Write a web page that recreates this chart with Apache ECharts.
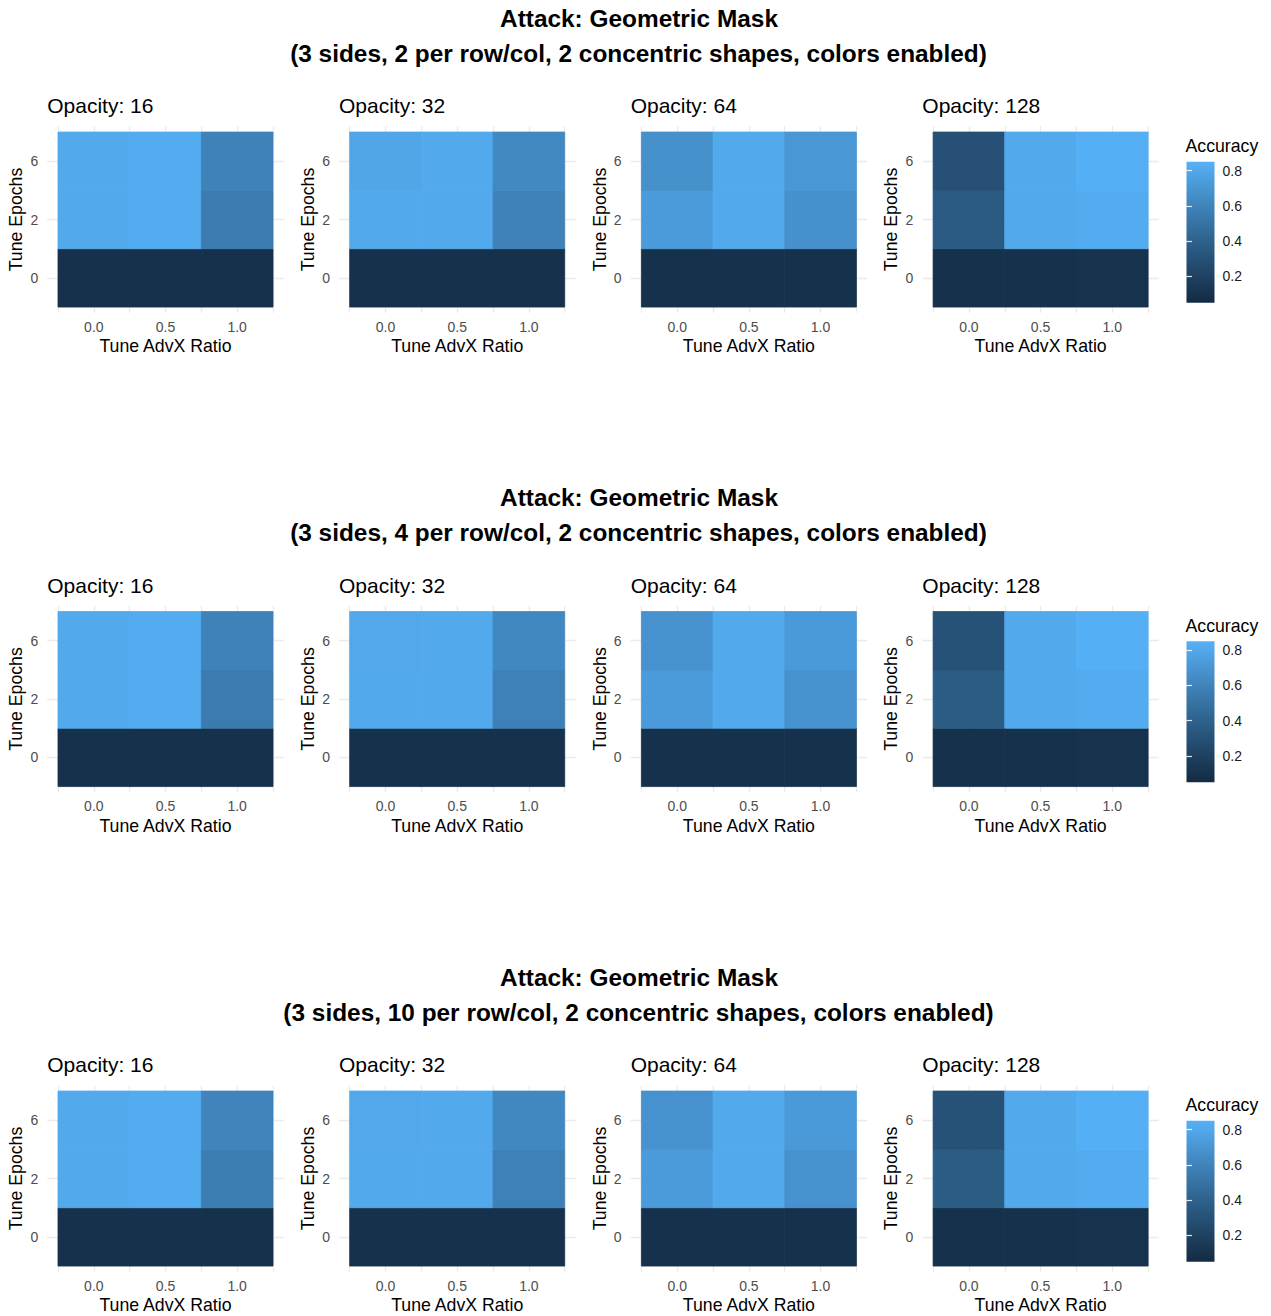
<!DOCTYPE html>
<html>
<head>
<meta charset="utf-8">
<title>Attack: Geometric Mask</title>
<script src="https://cdn.jsdelivr.net/npm/echarts@6/dist/echarts.min.js"></script>
<style>
  html, body { margin: 0; padding: 0; background: #ffffff; }
  #chart { width: 1271px; height: 1316px; }
</style>
</head>
<body>
<div id="chart"></div>
<script>
// ---- data ---------------------------------------------------------------
const advxRatios = [0.0, 0.5, 1.0];          // x: Tune AdvX Ratio
const tuneEpochs = [0, 2, 6];                // y: Tune Epochs (discrete)
const opacities = [16, 32, 64, 128];         // one panel per opacity
const shapesPerRowCol = [2, 4, 10];          // one figure row per setting
const legendBreaks = [0.2, 0.4, 0.6, 0.8];
const accuracyLimits = [0.05, 0.85];

// accuracy[epoch][ratio]; epoch rows in order 0, 2, 6; ratio columns 0.0, 0.5, 1.0
const acc2_op16  = [[0.09, 0.09, 0.09], [0.81, 0.82, 0.55], [0.81, 0.82, 0.59]];
const acc2_op32  = [[0.09, 0.09, 0.09], [0.81, 0.81, 0.59], [0.79, 0.81, 0.63]];
const acc2_op64  = [[0.09, 0.09, 0.09], [0.73, 0.81, 0.67], [0.67, 0.81, 0.71]];
const acc2_op128 = [[0.09, 0.09, 0.095], [0.35, 0.81, 0.82], [0.29, 0.81, 0.84]];

const acc4_op16  = [[0.09, 0.09, 0.09], [0.81, 0.82, 0.55], [0.81, 0.82, 0.59]];
const acc4_op32  = [[0.09, 0.09, 0.09], [0.81, 0.81, 0.58], [0.80, 0.81, 0.62]];
const acc4_op64  = [[0.09, 0.09, 0.09], [0.73, 0.81, 0.68], [0.68, 0.81, 0.72]];
const acc4_op128 = [[0.09, 0.09, 0.095], [0.36, 0.81, 0.82], [0.30, 0.81, 0.84]];

const acc10_op16  = [[0.09, 0.09, 0.09], [0.81, 0.82, 0.56], [0.81, 0.82, 0.60]];
const acc10_op32  = [[0.09, 0.09, 0.09], [0.81, 0.81, 0.58], [0.80, 0.81, 0.62]];
const acc10_op64  = [[0.09, 0.09, 0.09], [0.73, 0.81, 0.68], [0.68, 0.81, 0.72]];
const acc10_op128 = [[0.09, 0.09, 0.095], [0.36, 0.81, 0.82], [0.30, 0.81, 0.84]];

const figureRows = [
  [acc2_op16, acc2_op32, acc2_op64, acc2_op128],
  [acc4_op16, acc4_op32, acc4_op64, acc4_op128],
  [acc10_op16, acc10_op32, acc10_op64, acc10_op128]
];

// ---- colour ramp: low -> high interpolated in CIE Lab -----------------------
const LOW = '#132B43', HIGH = '#56B1F7';
const WHITE = [0.95047, 1.0, 1.08883];
const EPS = 216 / 24389, KAPPA = 24389 / 27;
function srgbToLinear(c) { c /= 255; return c <= 0.04045 ? c / 12.92 : Math.pow((c + 0.055) / 1.055, 2.4); }
function linearToSrgb(c) {
  const v = c <= 0.0031308 ? 12.92 * c : 1.055 * Math.pow(c, 1 / 2.4) - 0.055;
  return Math.round(Math.min(1, Math.max(0, v)) * 255);
}
function hexToLab(hex) {
  const r = srgbToLinear(parseInt(hex.slice(1, 3), 16));
  const g = srgbToLinear(parseInt(hex.slice(3, 5), 16));
  const b = srgbToLinear(parseInt(hex.slice(5, 7), 16));
  const xyz = [
    0.4124564 * r + 0.3575761 * g + 0.1804375 * b,
    0.2126729 * r + 0.7151522 * g + 0.0721750 * b,
    0.0193339 * r + 0.1191920 * g + 0.9503041 * b
  ];
  const f = xyz.map((v, i) => { const t = v / WHITE[i]; return t > EPS ? Math.cbrt(t) : (KAPPA * t + 16) / 116; });
  return [116 * f[1] - 16, 500 * (f[0] - f[1]), 200 * (f[1] - f[2])];
}
function labToHex(lab) {
  const fy = (lab[0] + 16) / 116, fx = fy + lab[1] / 500, fz = fy - lab[2] / 200;
  const inv = f => { const f3 = f * f * f; return f3 > EPS ? f3 : (116 * f - 16) / KAPPA; };
  const X = inv(fx) * WHITE[0], Y = inv(fy) * WHITE[1], Z = inv(fz) * WHITE[2];
  const r = 3.2404542 * X - 1.5371385 * Y - 0.4985314 * Z;
  const g = -0.9692660 * X + 1.8760108 * Y + 0.0415560 * Z;
  const b = 0.0556434 * X - 0.2040259 * Y + 1.0572252 * Z;
  return '#' + [r, g, b].map(v => linearToSrgb(v).toString(16).padStart(2, '0')).join('');
}
const labLow = hexToLab(LOW), labHigh = hexToLab(HIGH);
const ramp = [];
for (let i = 0; i <= 40; i++) {
  const t = i / 40;
  ramp.push(labToHex(labLow.map((v, k) => v + (labHigh[k] - v) * t)));
}

// ---- layout -------------------------------------------------------------
const FONT = '"Liberation Sans", Arial, Helvetica, sans-serif';
const ROW_STEP = 479.5;
const COL_STEP = 291.7;
const PANEL_LEFT = 47.25;
const PANEL_TOP = 126.2;
const PANEL_W = 236.5;
const PANEL_H = 186.7;

// x scale: tiles span one ratio step, plus 5% expansion on each side
const ratioStep = advxRatios[1] - advxRatios[0];
const xLo = advxRatios[0] - ratioStep / 2, xHi = advxRatios[advxRatios.length - 1] + ratioStep / 2;
const xPad = (xHi - xLo) * 0.05;
const xGridValues = advxRatios.map(v => v - ratioStep / 2).concat(advxRatios, [xHi]).sort((a, b) => a - b);
// y scale: discrete epochs at positions 1..n, 0.6 expansion
const yPositions = tuneEpochs.map((e, i) => i + 1);

const grids = [], xAxes = [], yAxes = [], series = [], graphics = [];
const tileSeries = [];

function tileRenderer(params, api) {
  const x = api.value(0), y = api.value(1);
  const p0 = api.coord([x - ratioStep / 2, y + 0.5]);
  const p1 = api.coord([x + ratioStep / 2, y - 0.5]);
  const c = api.visual('color');
  return {
    type: 'rect',
    shape: { x: p0[0], y: p0[1], width: p1[0] - p0[0], height: p1[1] - p0[1] },
    style: { fill: c, stroke: c, lineWidth: 0.8 }
  };
}

function legendBarRenderer(params) {
  const cs = params.coordSys;
  const stops = ramp.map((col, i) => ({ offset: i / (ramp.length - 1), color: col }));
  return {
    type: 'rect',
    shape: { x: cs.x, y: cs.y, width: cs.width, height: cs.height },
    style: { fill: new echarts.graphic.LinearGradient(0, 1, 0, 0, stops) }
  };
}

function textEl(text, x, y, size, weight, align, color) {
  return {
    type: 'text', x: x, y: y, silent: true,
    style: {
      text: text, fill: color || '#000000', fontSize: size, fontWeight: weight, fontFamily: FONT,
      align: align, textAlign: align, verticalAlign: 'middle', textVerticalAlign: 'middle'
    }
  };
}

figureRows.forEach((panels, r) => {
  const dy = r * ROW_STEP;
  graphics.push(textEl('Attack: Geometric Mask', 639, 18 + dy, 24.4, 'bold', 'center'));
  graphics.push(textEl('(3 sides, ' + shapesPerRowCol[r] + ' per row/col, 2 concentric shapes, colors enabled)',
    638.5, 53 + dy, 24.4, 'bold', 'center'));

  panels.forEach((acc, c) => {
    const gi = grids.length;
    const xi = xAxes.length, yi = yAxes.length;
    const left = PANEL_LEFT + c * COL_STEP;
    grids.push({ left: left, top: PANEL_TOP + dy, width: PANEL_W, height: PANEL_H });
    graphics.push(textEl('Opacity: ' + opacities[c], left, 105.8 + dy, 21, 'normal', 'left'));

    xAxes.push({
      type: 'value', gridIndex: gi, min: xLo - xPad, max: xHi + xPad,
      name: 'Tune AdvX Ratio', nameLocation: 'middle', nameGap: 24.5,
      nameTextStyle: { fontSize: 17.7, color: '#000000', fontFamily: FONT },
      axisLine: { show: false },
      axisTick: { show: false, customValues: xGridValues },
      axisLabel: { customValues: advxRatios, formatter: v => v.toFixed(1), color: '#4D4D4D',
        fontSize: 14, margin: 7, fontFamily: FONT },
      splitLine: { show: true, lineStyle: { color: '#EBEBEB', width: 1.3 } }
    });
    yAxes.push({
      type: 'value', gridIndex: gi, min: 1 - 0.6, max: tuneEpochs.length + 0.6,
      name: 'Tune Epochs', nameLocation: 'middle', nameGap: 22,
      nameTextStyle: { fontSize: 17.7, color: '#000000', fontFamily: FONT },
      axisLine: { show: false },
      axisTick: { show: false, customValues: yPositions },
      axisLabel: { customValues: yPositions, formatter: v => String(tuneEpochs[Math.round(v) - 1]),
        color: '#4D4D4D', fontSize: 14, margin: 9, fontFamily: FONT },
      splitLine: { show: true, lineStyle: { color: '#EBEBEB', width: 1.3 } }
    });

    const data = [];
    tuneEpochs.forEach((e, ei) => {
      advxRatios.forEach((x, k) => data.push([x, yPositions[ei], acc[ei][k]]));
    });
    tileSeries.push(series.length);
    series.push({
      type: 'custom', xAxisIndex: xi, yAxisIndex: yi, data: data,
      encode: { x: 0, y: 1 }, renderItem: tileRenderer, silent: true
    });
  });

  // colour bar for this row
  const li = grids.length;
  grids.push({ left: 1186.5, top: 161.7 + dy, width: 28, height: 141 });
  graphics.push(textEl('Accuracy', 1185.5, 146 + dy, 17.7, 'normal', 'left'));
  const lx = xAxes.length;
  xAxes.push({ type: 'value', gridIndex: li, min: 0, max: 1, show: false });
  const yRight = yAxes.length;
  const tickStyle = { show: true, inside: true, length: 5.5, customValues: legendBreaks,
    lineStyle: { color: 'rgba(255,255,255,0.85)', width: 1.2 } };
  yAxes.push({
    type: 'value', gridIndex: li, position: 'right', min: accuracyLimits[0], max: accuracyLimits[1], z: 5,
    axisLine: { show: false }, axisTick: tickStyle, splitLine: { show: false },
    axisLabel: { customValues: legendBreaks, formatter: v => v.toFixed(1), color: '#1A1A1A',
      fontSize: 14, margin: 8, fontFamily: FONT }
  });
  yAxes.push({
    type: 'value', gridIndex: li, position: 'left', min: accuracyLimits[0], max: accuracyLimits[1], z: 5,
    axisLine: { show: false }, axisTick: tickStyle, splitLine: { show: false },
    axisLabel: { show: false }
  });
  series.push({
    type: 'custom', xAxisIndex: lx, yAxisIndex: yRight, data: [[0, accuracyLimits[0]]],
    renderItem: legendBarRenderer, silent: true, z: 1
  });
});

const chart = echarts.init(document.getElementById('chart'), null, { renderer: 'svg' });
chart.setOption({
  backgroundColor: '#ffffff',
  animation: false,
  textStyle: { fontFamily: FONT },
  grid: grids,
  xAxis: xAxes,
  yAxis: yAxes,
  visualMap: {
    type: 'continuous', show: false, dimension: 2, seriesIndex: tileSeries,
    min: accuracyLimits[0], max: accuracyLimits[1], inRange: { color: ramp }
  },
  graphic: graphics,
  series: series
});
</script>
</body>
</html>
